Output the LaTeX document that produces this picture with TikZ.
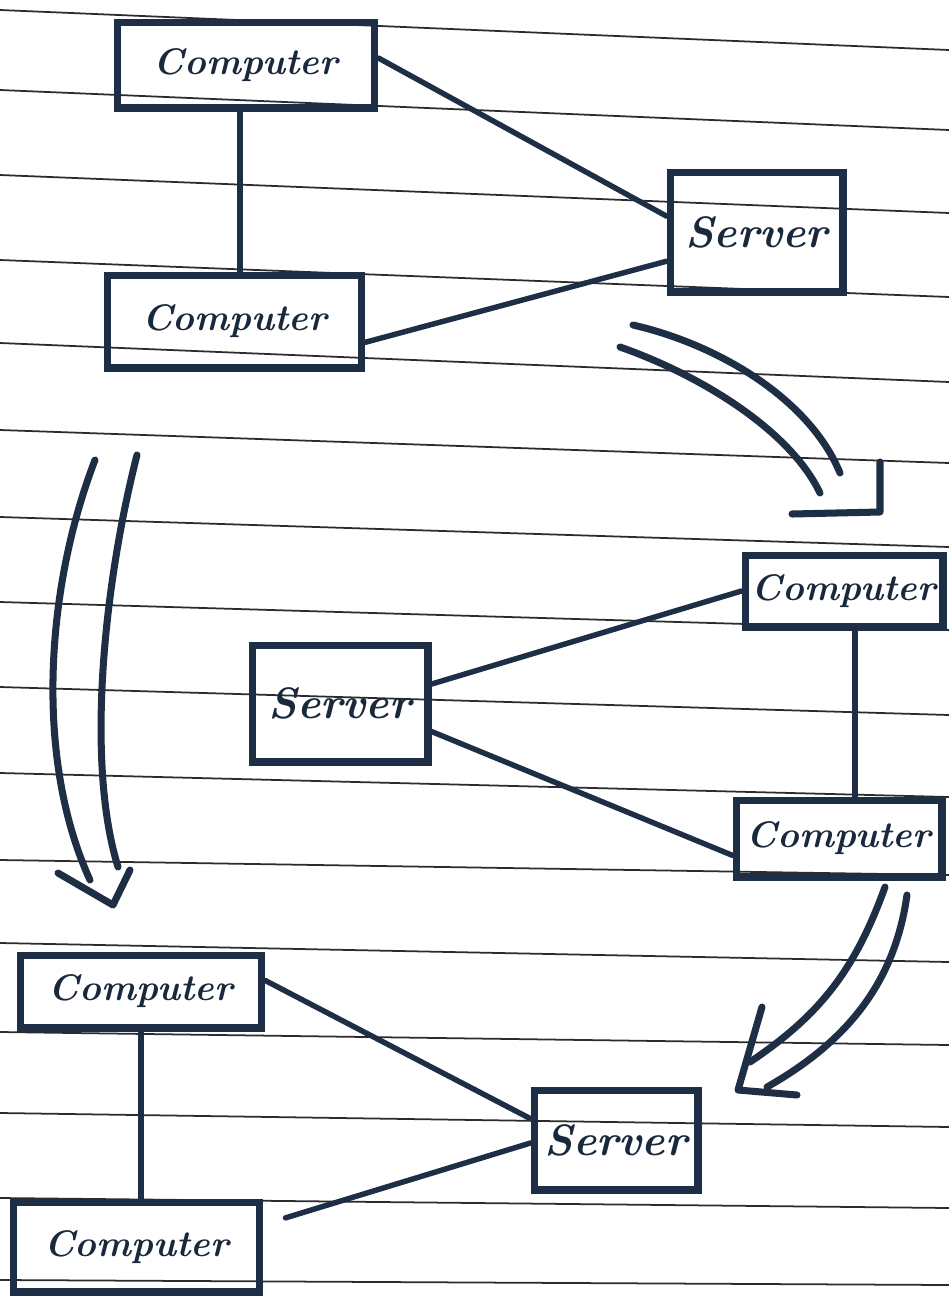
\documentclass[tikz,border=0pt]{standalone}
\usetikzlibrary{calc}
\definecolor{ink}{HTML}{1E2F45}
\definecolor{rulecol}{HTML}{2B2B2B}
\tikzset{
  box/.style={draw=ink, line width=4pt, rectangle, inner sep=0pt, text=ink!85!black},
  comp/.style={box, font=\fontsize{21}{24}\selectfont\bfseries\itshape},
  serv/.style={box, font=\fontsize{25}{28}\selectfont\bfseries\itshape},
  link/.style={draw=ink, line width=3.1pt, line cap=round},
  stroke/.style={draw=ink, line width=4pt, line cap=round, line join=round},
  paperline/.style={draw=rulecol, line width=1pt},
}
\begin{document}
\begin{tikzpicture}[x=0.02cm, y=-0.02cm]
\useasboundingbox (0,0) rectangle (949,1316);
\fill[white] (0,0) rectangle (949,1316);
% ruled paper
\foreach \l/\r in {10/50, 90/130, 175/213, 260/297, 343/382, 430/463, 517/547, 602/630, 687/715, 773/797, 860/875, 943/962, 1032/1045, 1113/1127, 1198/1208, 1280/1285}
  \draw[paperline] (0,\l) -- (949,\r);

% nodes
\node[comp, minimum width=5.16cm, minimum height=1.72cm] (C1) at (246,65) {Computer};
\node[comp, minimum width=5.10cm, minimum height=1.86cm] (C2) at (234.5,321.5) {Computer};
\node[serv, minimum width=3.46cm, minimum height=2.40cm] (S1) at (756.5,232) {Server};
\node[comp, minimum width=3.96cm, minimum height=1.44cm] (C3) at (844,591) {Computer};
\node[serv, minimum width=3.52cm, minimum height=2.34cm] (S2) at (340,703.5) {Server};
\node[comp, minimum width=4.12cm, minimum height=1.54cm] (C4) at (839,838.5) {Computer};
\node[comp, minimum width=4.84cm, minimum height=1.46cm] (C5) at (141,991.5) {Computer};
\node[comp, minimum width=4.94cm, minimum height=1.80cm] (C6) at (136.5,1247) {Computer};
\node[serv, minimum width=3.28cm, minimum height=2.00cm] (S3) at (616,1140) {Server};

% connectors
\draw[link] ([xshift=-0.12cm]C1.south) -- ([xshift=-0.12cm]C1.south |- C2.north);
\draw[link] (C1.3) -- (S1.170);
\draw[link] (C2.-9) -- (S1.198);
\draw[link] (S2.12) -- (C3.west);
\draw[link] (S2.-17) -- (C4.189);
\draw[link] ([xshift=0.22cm]C3.south) -- ([xshift=0.22cm]C3.south |- C4.north);
\draw[link] (C5.south) -- (C5.south |- C6.north);
\draw[link] (C5.5) -- (S3.166);
\draw[link, shorten <=0.46cm] (C6.10) -- (S3.182);

% hollow arrow, top right
\draw[stroke] (633,325) .. controls (720,345) and (810,400) .. (840,473);
\draw[stroke] (620,347) .. controls (700,375) and (790,430) .. (820,493);
\draw[stroke] (880,462) -- (880,512) -- (792,514);

% hollow arrow, left
\draw[stroke] (95,460) .. controls (45,590) and (35,760) .. (90,880);
\draw[stroke] (137,455) .. controls (105,580) and (85,760) .. (118,867);
\draw[stroke] (58,873) -- (113,905) -- (130,870);

% hollow arrow, bottom right
\draw[stroke] (885,887) .. controls (855,970) and (820,1015) .. (750,1062);
\draw[stroke] (907,895) .. controls (895,980) and (850,1040) .. (767,1087);
\draw[stroke] (762,1007) -- (738,1090) -- (797,1095);
\end{tikzpicture}
\end{document}
